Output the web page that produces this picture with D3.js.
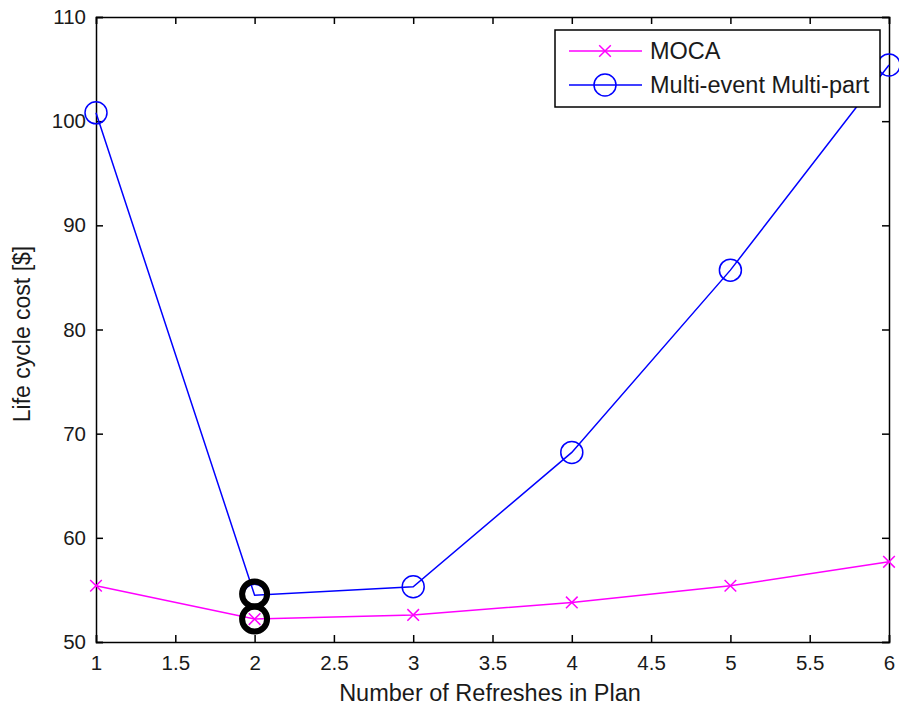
<!DOCTYPE html>
<html>
<head>
<meta charset="utf-8">
<script src="https://cdn.jsdelivr.net/npm/d3@7"></script>
<style>
  body { margin: 0; background: #fff; }
  svg text { font-family: 'Liberation Sans', Arial, sans-serif; fill: #1a1a1a; }
</style>
</head>
<body>
<div id="graf"></div>
<script>
const refreshes = [1, 2, 3, 4, 5, 6]
const moca = [55.4, 52.2, 52.6, 53.8, 55.4, 57.7]
const multiPart = [100.8, 54.5, 55.3, 68.2, 85.7, 105.4]
const optimum = [{ x: 2, y: 54.6 }, { x: 2, y: 52.2 }]
const xTicks = [1, 1.5, 2, 2.5, 3, 3.5, 4, 4.5, 5, 5.5, 6]
const yTicks = [50, 60, 70, 80, 90, 100, 110]
const seriesNames = ['MOCA', 'Multi-event Multi-part']

const anchoTotal = 899
const altoTotal = 708
const margin = { top: 17, bottom: 66, left: 96, right: 10 }
const ancho = anchoTotal - margin.left - margin.right
const alto = altoTotal - margin.top - margin.bottom

const svg = d3.select('#graf')
  .append('svg')
  .attr('width', anchoTotal)
  .attr('height', altoTotal)

const g = svg.append('g')
  .attr('transform', `translate(${margin.left}, ${margin.top})`)

const x = d3.scaleLinear().domain([1, 6]).range([0, ancho])
const y = d3.scaleLinear().domain([50, 110]).range([alto, 0])

// axes, ticks pointing inward like matlab
const tickLen = 7
g.append('g')
  .attr('transform', `translate(0, ${alto})`)
  .call(d3.axisBottom(x).tickValues(xTicks).tickSize(-tickLen).tickPadding(13).tickFormat(d3.format('')))
g.append('g')
  .call(d3.axisTop(x).tickValues(xTicks).tickSize(-tickLen).tickFormat(''))
g.append('g')
  .call(d3.axisLeft(y).tickValues(yTicks).tickSize(-tickLen).tickPadding(10))
g.append('g')
  .attr('transform', `translate(${ancho}, 0)`)
  .call(d3.axisRight(y).tickValues(yTicks).tickSize(-tickLen).tickFormat(''))

g.selectAll('.domain').attr('stroke', '#000').attr('stroke-width', 1.5)
g.selectAll('.tick line').attr('stroke', '#000').attr('stroke-width', 1.5)
g.selectAll('.tick text').attr('font-size', 20.5).attr('fill', '#1a1a1a')

// labels
svg.append('text')
  .attr('x', 490)
  .attr('y', 701)
  .attr('text-anchor', 'middle')
  .attr('font-size', 23.5)
  .text('Number of Refreshes in Plan')

svg.append('text')
  .attr('transform', 'translate(30, 334) rotate(-90)')
  .attr('text-anchor', 'middle')
  .attr('font-size', 23)
  .text('Life cycle cost [$]')

const line = d3.line().x(d => x(d[0])).y(d => y(d[1]))

const mocaPts = refreshes.map((r, i) => [r, moca[i]])
const multiPts = refreshes.map((r, i) => [r, multiPart[i]])

g.append('path')
  .datum(mocaPts)
  .attr('fill', 'none')
  .attr('stroke', '#ff00ff')
  .attr('stroke-width', 1.5)
  .attr('d', line)

g.append('path')
  .datum(multiPts)
  .attr('fill', 'none')
  .attr('stroke', '#0000ff')
  .attr('stroke-width', 1.5)
  .attr('d', line)

const cross = d3.symbol().type(d3.symbolX).size(90)

g.selectAll('.mx')
  .data(mocaPts)
  .enter()
  .append('path')
  .attr('class', 'mx')
  .attr('transform', d => `translate(${x(d[0])}, ${y(d[1])})`)
  .attr('d', cross)
  .attr('fill', 'none')
  .attr('stroke', '#ff00ff')
  .attr('stroke-width', 1.5)

g.selectAll('.mo')
  .data(multiPts)
  .enter()
  .append('circle')
  .attr('class', 'mo')
  .attr('cx', d => x(d[0]))
  .attr('cy', d => y(d[1]))
  .attr('r', 11)
  .attr('fill', 'none')
  .attr('stroke', '#0000ff')
  .attr('stroke-width', 1.5)

// minimum markers
g.selectAll('.opt')
  .data(optimum)
  .enter()
  .append('circle')
  .attr('class', 'opt')
  .attr('cx', d => x(d.x))
  .attr('cy', d => y(d.y))
  .attr('r', 12.5)
  .attr('fill', 'none')
  .attr('stroke', '#000')
  .attr('stroke-width', 6)

// legend
const leg = svg.append('g').attr('transform', 'translate(555, 30)')
leg.append('rect')
  .attr('width', 325)
  .attr('height', 77)
  .attr('fill', '#fff')
  .attr('stroke', '#000')
  .attr('stroke-width', 1.5)

const legColors = ['#ff00ff', '#0000ff']
seriesNames.forEach((name, i) => {
  const yy = 21 + i * 34
  leg.append('line')
    .attr('x1', 14).attr('x2', 87)
    .attr('y1', yy).attr('y2', yy)
    .attr('stroke', legColors[i])
    .attr('stroke-width', 1.5)
  if (i === 0) {
    leg.append('path')
      .attr('transform', `translate(50, ${yy})`)
      .attr('d', cross)
      .attr('fill', 'none')
      .attr('stroke', legColors[i])
      .attr('stroke-width', 1.5)
  } else {
    leg.append('circle')
      .attr('cx', 50).attr('cy', yy).attr('r', 11)
      .attr('fill', 'none')
      .attr('stroke', legColors[i])
      .attr('stroke-width', 1.5)
  }
  leg.append('text')
    .attr('x', 95)
    .attr('y', yy + 8)
    .attr('font-size', 23.5)
    .text(name)
})
</script>
</body>
</html>
